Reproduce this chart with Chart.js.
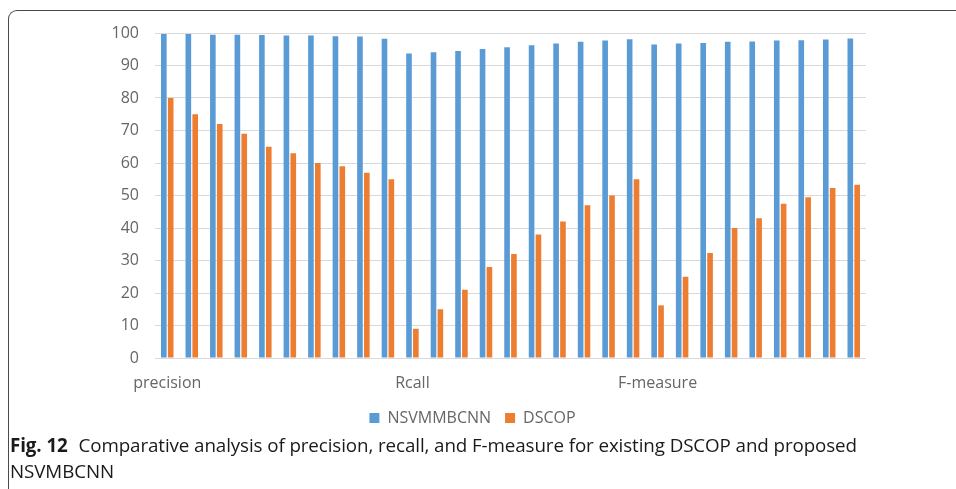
<!DOCTYPE html>
<html>
<head>
<meta charset="utf-8">
<script src="https://cdn.jsdelivr.net/npm/chart.js@4.4.1/dist/chart.umd.min.js"></script>
<style>
  html, body { margin: 0; padding: 0; background: #fff; }
  body { width: 956px; height: 489px; position: relative; overflow: hidden; }
  .frame {
    position: absolute; left: 8px; top: 10px; width: 1000px; height: 600px;
    border-left: 1.5px solid #4a4a4a; border-top: 1.5px solid #4a4a4a;
    border-top-left-radius: 9px; box-sizing: border-box;
  }
  #wrap { position: absolute; left: 0; top: 0; width: 956px; height: 436px; }
  .caption {
    position: absolute; left: 10px; top: 433px; width: 870px;
    font-family: "Open Sans", sans-serif; font-size: 18.8px; line-height: 25.5px; color: #1a1a1a;
    letter-spacing: -0.1px;
  }
  .caption b { font-weight: 700; margin-right: 6px; }
</style>
</head>
<body>
<div class="frame"></div>
<div id="wrap"><canvas id="c"></canvas></div>
<div class="caption"><b>Fig. 12</b> Comparative analysis of precision, recall, and F-measure for existing DSCOP and proposed NSVMBCNN</div>
<script>
// Category labels: one heading per group of runs, the rest left blank
const categories = [
  "precision", "", "", "", "", "", "", "", "", "",
  "Rcall", "", "", "", "", "", "", "", "", "",
  "F-measure", "", "", "", "", "", "", "", ""
];

// NSVMMBCNN scores (%)
const nsvmmbcnn = [
  99.7, 99.7, 99.5, 99.5, 99.4, 99.2, 99.2, 99.0, 98.9, 98.2,
  93.7, 94.1, 94.5, 95.1, 95.6, 96.2, 96.8, 97.3, 97.7, 98.1,
  96.5, 96.8, 96.9, 97.3, 97.4, 97.7, 97.8, 98.0, 98.3
];

// DSCOP scores (%)
const dscop = [
  80, 75, 72, 69, 65, 63, 60, 59, 57, 55,
  9, 15, 21, 28, 32, 38, 42, 47, 50, 55,
  16.2, 25, 32.3, 40, 43, 47.5, 49.5, 52.3, 53.3
];

const yTicks = [0, 10, 20, 30, 40, 50, 60, 70, 80, 90, 100];

const textGray = "#666666";
const font = { family: "'Open Sans', sans-serif", size: 16 };

new Chart(document.getElementById("c"), {
  type: "bar",
  data: {
    labels: categories,
    datasets: [
      { label: "NSVMMBCNN", data: nsvmmbcnn, backgroundColor: "#5B9BD5",
        categoryPercentage: 0.56, barPercentage: 0.82 },
      { label: "DSCOP", data: dscop, backgroundColor: "#ED7D31",
        categoryPercentage: 0.56, barPercentage: 0.82 }
    ]
  },
  options: {
    responsive: true,
    maintainAspectRatio: false,
    animation: false,
    layout: { padding: { top: 33, right: 90, left: 79, bottom: 0 } },
    plugins: {
      tooltip: { enabled: false },
      legend: {
        position: "bottom",
        labels: { color: textGray, font: font, boxWidth: 10, boxHeight: 10, padding: 14 }
      }
    },
    scales: {
      x: {
        grid: { display: false, drawTicks: false },
        border: { display: false },
        ticks: { color: textGray, font: font, autoSkip: false, maxRotation: 0, padding: 16 },
        afterFit: (s) => { s.height = 38; }
      },
      y: {
        min: 0, max: 100,
        afterBuildTicks: (s) => { s.ticks = yTicks.map(v => ({ value: v })); },
        grid: { color: "#D9D9D9", lineWidth: 1, drawTicks: false },
        border: { display: false },
        ticks: { color: textGray, font: font, padding: 16 },
        afterFit: (s) => { s.width = 76; }
      }
    }
  }
});
</script>
</body>
</html>
